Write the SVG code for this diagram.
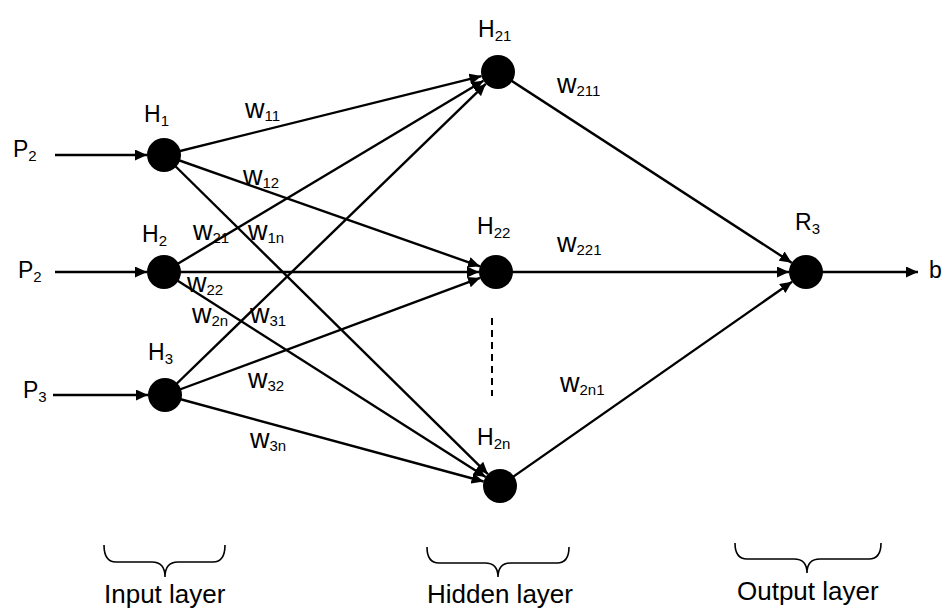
<svg xmlns="http://www.w3.org/2000/svg" width="943" height="609" viewBox="0 0 943 609">
<style>
  .edge { stroke: #000; stroke-width: 2.4; fill: none; }
  .node { fill: #000; }
  .lbl { font-family: "Liberation Sans", Arial, sans-serif; font-size: 23px; fill: #000; }
  .wl { font-family: "Liberation Sans", Arial, sans-serif; font-size: 27px; fill: #000; }
  .sub { font-size: 15px; }
  .layer { font-family: "Liberation Sans", Arial, sans-serif; font-size: 26px; fill: #000; }
  .brace { stroke: #000; stroke-width: 1.6; fill: none; }
  .dash { stroke: #000; stroke-width: 2; stroke-dasharray: 7 5; fill: none; }
</style>
<defs>
  <marker id="arr" markerUnits="userSpaceOnUse" markerWidth="13" markerHeight="11" refX="12" refY="5.5" orient="auto">
    <path d="M0,0 L12,5.5 L0,11 z" fill="#000"/>
  </marker>
</defs>
<rect width="943" height="609" fill="#fff"/>

<g id="connectors">
  <line class="edge" x1="55" y1="155" x2="147" y2="155" marker-end="url(#arr)"/>
  <line class="edge" x1="55" y1="272" x2="147" y2="272" marker-end="url(#arr)"/>
  <line class="edge" x1="53" y1="395" x2="148" y2="395" marker-end="url(#arr)"/>

  <line class="edge" x1="164" y1="155" x2="481.5" y2="76.1" marker-end="url(#arr)"/>
  <line class="edge" x1="164" y1="155" x2="480.0" y2="266.3" marker-end="url(#arr)"/>
  <line class="edge" x1="164" y1="155" x2="487.9" y2="474.1" marker-end="url(#arr)"/>

  <line class="edge" x1="164" y1="272" x2="483.4" y2="80.8" marker-end="url(#arr)"/>
  <line class="edge" x1="164" y1="272" x2="479" y2="272" marker-end="url(#arr)"/>
  <line class="edge" x1="164" y1="272" x2="485.7" y2="476.9" marker-end="url(#arr)"/>

  <line class="edge" x1="165" y1="395" x2="485.8" y2="83.8" marker-end="url(#arr)"/>
  <line class="edge" x1="165" y1="395" x2="480.1" y2="277.9" marker-end="url(#arr)"/>
  <line class="edge" x1="165" y1="395" x2="483.6" y2="481.5" marker-end="url(#arr)"/>

  <line class="edge" x1="498" y1="72" x2="791.7" y2="262.7" marker-end="url(#arr)"/>
  <line class="edge" x1="496" y1="272" x2="789" y2="272" marker-end="url(#arr)"/>
  <line class="edge" x1="500" y1="486" x2="792.1" y2="281.7" marker-end="url(#arr)"/>

  <line class="edge" x1="806" y1="272" x2="918" y2="272" marker-end="url(#arr)"/>

  <line class="dash" x1="492" y1="318" x2="492" y2="396"/>
</g>

<g id="H1"><circle class="node" cx="164" cy="155" r="17"/><text class="lbl" x="144" y="122">H<tspan class="sub" dy="4">1</tspan></text></g>
<g id="H2"><circle class="node" cx="164" cy="272" r="17"/><text class="lbl" x="142" y="242">H<tspan class="sub" dy="4">2</tspan></text></g>
<g id="H3"><circle class="node" cx="165" cy="395" r="17"/><text class="lbl" x="148" y="360">H<tspan class="sub" dy="4">3</tspan></text></g>
<g id="H21"><circle class="node" cx="498" cy="72" r="17"/><text class="lbl" x="478" y="37">H<tspan class="sub" dy="4">21</tspan></text></g>
<g id="H22"><circle class="node" cx="496" cy="272" r="17"/><text class="lbl" x="477" y="234">H<tspan class="sub" dy="4">22</tspan></text></g>
<g id="H2n"><circle class="node" cx="500" cy="486" r="17"/><text class="lbl" x="477" y="445">H<tspan class="sub" dy="4">2n</tspan></text></g>
<g id="R3"><circle class="node" cx="806" cy="272" r="17"/><text class="lbl" x="795" y="230">R<tspan class="sub" dy="4">3</tspan></text></g>

<g id="inputs">
  <text class="lbl" x="13" y="157">P<tspan class="sub" dy="4">2</tspan></text>
  <text class="lbl" x="18" y="278">P<tspan class="sub" dy="4">2</tspan></text>
  <text class="lbl" x="23" y="398">P<tspan class="sub" dy="4">3</tspan></text>
  <text class="lbl" x="929" y="278">b</text>
</g>

<g id="weights">
  <text class="wl" x="245" y="118">w<tspan class="sub" dy="3">11</tspan></text>
  <text class="wl" x="243" y="185">w<tspan class="sub" dy="3">12</tspan></text>
  <text class="wl" x="193" y="240">w<tspan class="sub" dy="3">21</tspan></text>
  <text class="wl" x="248" y="240">w<tspan class="sub" dy="3">1n</tspan></text>
  <text class="wl" x="187" y="292">w<tspan class="sub" dy="3">22</tspan></text>
  <text class="wl" x="192" y="323">w<tspan class="sub" dy="3">2n</tspan></text>
  <text class="wl" x="250" y="323">w<tspan class="sub" dy="3">31</tspan></text>
  <text class="wl" x="248" y="388">w<tspan class="sub" dy="3">32</tspan></text>
  <text class="wl" x="250" y="448">w<tspan class="sub" dy="3">3n</tspan></text>
  <text class="wl" x="557" y="93">w<tspan class="sub" dy="3">211</tspan></text>
  <text class="wl" x="557" y="252">w<tspan class="sub" dy="3">221</tspan></text>
  <text class="wl" x="560" y="392">w<tspan class="sub" dy="3">2n1</tspan></text>
</g>

<g id="layers">
  <path class="brace" d="M104,545 Q104,562 116,562 L152,562 Q165,562 165,577 Q165,562 178,562 L213,562 Q225,562 225,545"/>
  <path class="brace" d="M427,547 Q427,563 439,563 L485,563 Q498,563 498,577 Q498,563 511,563 L557,563 Q569,563 569,547"/>
  <path class="brace" d="M735,543 Q735,559 747,559 L794,559 Q807,559 807,573 Q807,559 820,559 L869,559 Q881,559 881,543"/>
  <text class="layer" x="104" y="603">Input layer</text>
  <text class="layer" x="427" y="603">Hidden layer</text>
  <text class="layer" x="737" y="600">Output layer</text>
</g>
</svg>
